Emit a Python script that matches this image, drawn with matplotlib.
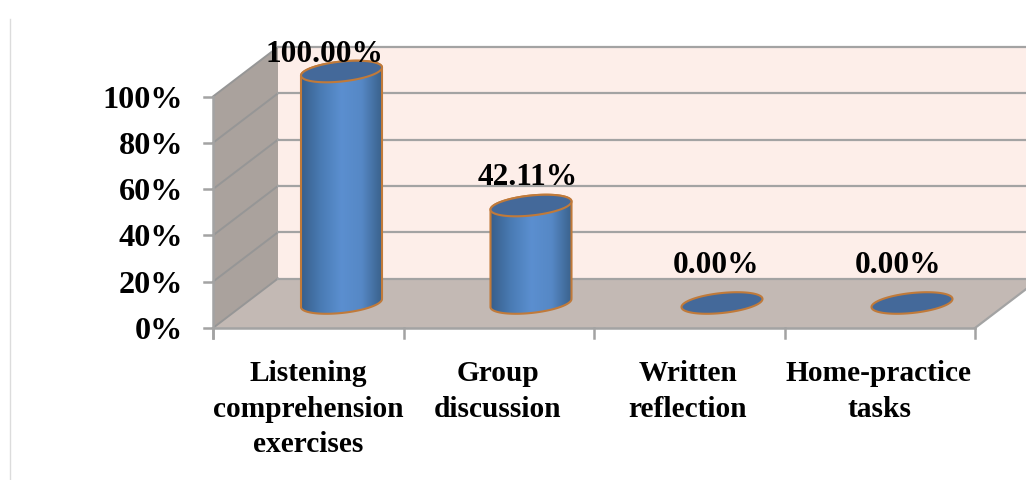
import numpy as np
from matplotlib import pyplot as plt
from matplotlib.colors import LinearSegmentedColormap
from matplotlib.patches import Polygon, PathPatch
from matplotlib.path import Path

categories = ["Listening\ncomprehension\nexercises", "Group\ndiscussion", "Written\nreflection", "Home-practice\ntasks"]
values = [100.00, 42.11, 0.00, 0.00]
value_labels = ["100.00%", "42.11%", "0.00%", "0.00%"]
y_ticks = [0, 20, 40, 60, 80, 100]

# chart box in figure pixels
X0, X1 = 213, 975
Y_ZERO, Y_FULL = 329, 97.5
DX, DY = 65, -49.5
BAR_A, BAR_B, BAR_SLOPE = 40.5, 10, 0.1
BAR_FLOOR = 304

GRID = "#a3a3a3"
body_cmap = LinearSegmentedColormap.from_list(
    "body", ["#385f8c", "#4a7cb5", "#5b8fd0", "#5688c6", "#3a628c"])

plt.rcParams['font.family'] = ['Liberation Serif']
plt.rcParams['font.weight'] = 'bold'

fig = plt.figure(figsize=(10.26, 4.81), dpi=100)
ax = fig.add_axes([0, 0, 1, 1])
ax.set_xlim(0, 1026)
ax.set_ylim(481, 0)
ax.axis("off")


def front_y(v):
    return Y_ZERO + (Y_FULL - Y_ZERO) * v / 100


def ellipse_pts(cx, cy, t):
    return np.column_stack([cx + BAR_A * np.cos(t),
                            cy + BAR_B * np.sin(t) - BAR_SLOPE * BAR_A * np.cos(t)])


# page edge line
ax.plot([10, 10], [20, 481], color="#dcdcdc", lw=1)

# walls and floor
ax.add_patch(Polygon([(X0 + DX, Y_ZERO + DY), (1060, Y_ZERO + DY), (1060, Y_FULL + DY), (X0 + DX, Y_FULL + DY)],
                     fc="#fdeee9", ec="none"))
ax.add_patch(Polygon([(X0, Y_ZERO), (X0 + DX, Y_ZERO + DY), (X0 + DX, Y_FULL + DY), (X0, Y_FULL)],
                     fc="#aaa29d", ec="none"))
ax.add_patch(Polygon([(X0, Y_ZERO), (X1, Y_ZERO), (X1 + DX, Y_ZERO + DY), (X0 + DX, Y_ZERO + DY)],
                     fc="#c3b9b4", ec="none"))

# gridlines run along the side wall and across the back wall
for v in y_ticks:
    y = front_y(v)
    ax.plot([X0, X0 + DX], [y, y + DY], color="#969696", lw=1.4)
    ax.plot([X0 + DX, 1060], [y + DY, y + DY], color=GRID, lw=1.6)
    ax.plot([X0 - 9, X0], [y, y], color=GRID, lw=1.8)
    ax.text(183, y + 2.5, "%d%%" % v, ha="right", va="center", fontsize=23.2, color="black")

# axis lines and category ticks
ax.plot([X0, X0], [Y_FULL, Y_ZERO + 10], color=GRID, lw=1.8)
ax.plot([X0, X1], [Y_ZERO, Y_ZERO], color=GRID, lw=1.8)
ax.plot([X1, X1 + DX], [Y_ZERO, Y_ZERO + DY], color=GRID, lw=1.6)
step = (X1 - X0) / len(categories)
for i in range(len(categories) + 1):
    x = X0 + i * step
    ax.plot([x, x], [Y_ZERO, Y_ZERO + 10], color=GRID, lw=1.8)

# cylinders
bar_x = [341.5, 531, 722, 912]
label_x = [324, 528, 716.5, 898.5]
label_y = [54, 178, 266, 266]
for cx, v, txt, lx, ly in zip(bar_x, values, value_labels, label_x, label_y):
    top_y = BAR_FLOOR - (Y_ZERO - Y_FULL) * v / 100
    if v > 0:
        lower = ellipse_pts(cx, BAR_FLOOR, np.linspace(0, np.pi, 60))
        upper = ellipse_pts(cx, top_y, np.linspace(np.pi, 2 * np.pi, 60))
        outline = np.vstack([lower, upper, lower[:1]])
        clip = PathPatch(Path(outline), fc="none", ec="#c07a3a", lw=1.5, zorder=4)
        ax.add_patch(clip)
        img = ax.imshow(np.linspace(0, 1, 128)[None, :], cmap=body_cmap, aspect="auto", zorder=3,
                        extent=[cx - BAR_A, cx + BAR_A, BAR_FLOOR + 12, top_y - 12])
        img.set_clip_path(clip)
    cap = ellipse_pts(cx, top_y, np.linspace(0, 2 * np.pi, 120))
    ax.add_patch(Polygon(cap, closed=True, fc="#44699a", ec="#c07a3a", lw=1.5, zorder=5))
    ax.text(lx, ly, txt, ha="center", va="center", fontsize=22.6, color="black", zorder=6)

# imshow resets the limits
ax.set_xlim(0, 1026)
ax.set_ylim(481, 0)

# category labels
cat_x = [308, 498, 688, 879]
for x, name in zip(cat_x, categories):
    ax.text(x, 360, name, ha="center", va="top", fontsize=21.2, color="black", linespacing=1.41)

fig.savefig("out.png", dpi=100)
